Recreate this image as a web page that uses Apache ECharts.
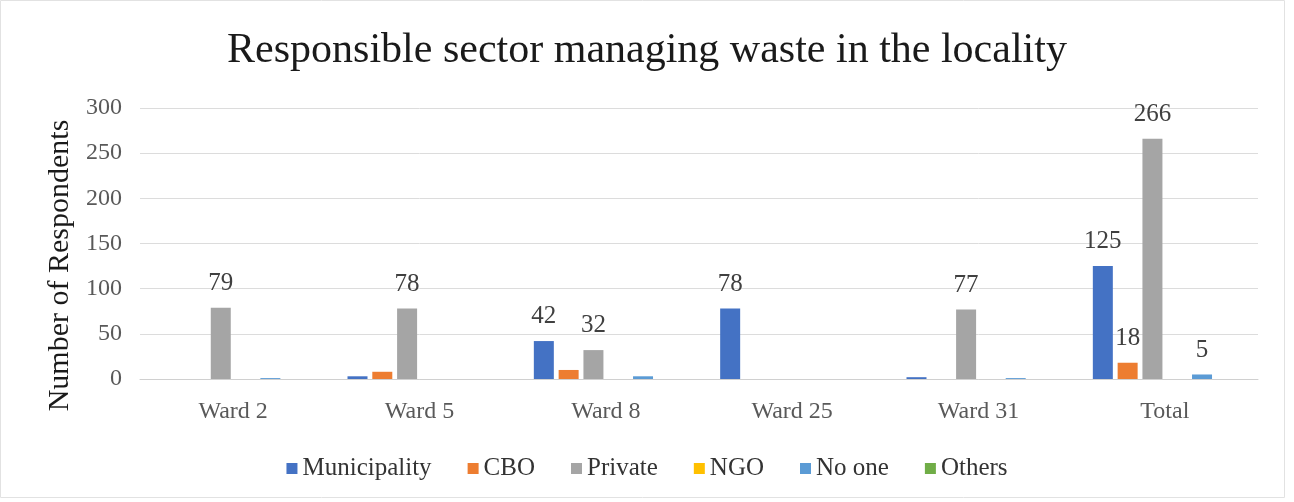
<!DOCTYPE html>
<html>
<head>
<meta charset="utf-8">
<script src="https://cdn.jsdelivr.net/npm/echarts@6/dist/echarts.min.js"></script>
<style>
  html, body { margin: 0; padding: 0; background: #fff; }
  #chart { width: 1294px; height: 502px; }
</style>
</head>
<body>
<div id="chart"></div>
<script>
// Respondents by ward and by sector responsible for waste management
const categories = ['Ward 2', 'Ward 5', 'Ward 8', 'Ward 25', 'Ward 31', 'Total'];
const seriesNames = ['Municipality', 'CBO', 'Private', 'NGO', 'No one', 'Others'];
const municipality = [0, 3, 42, 78, 2, 125];
const cbo = [0, 8, 10, 0, 0, 18];
const privateSector = [79, 78, 32, 0, 77, 266];
const ngo = [0, 0, 0, 0, 0, 0];
const noOne = [1, 0, 3, 0, 1, 5];
const others = [0, 0, 0, 0, 0, 0];
// Values printed above their bars
const labelled = {
  'Municipality': [false, false, true, true, false, true],
  'CBO': [false, false, false, false, false, true],
  'Private': [true, true, true, false, true, true],
  'NGO': [false, false, false, false, false, false],
  'No one': [false, false, false, false, false, true],
  'Others': [false, false, false, false, false, false]
};
const yTicks = { min: 0, max: 300, interval: 50 };

const colors = ['#4472C4', '#ED7D31', '#A5A5A5', '#FFC000', '#5B9BD5', '#70AD47'];
const values = [municipality, cbo, privateSector, ngo, noOne, others];
const serif = '"Liberation Serif", "DejaVu Serif", serif';

const chart = echarts.init(document.getElementById('chart'), null, { renderer: 'canvas' });

const series = seriesNames.map((name, i) => ({
  name,
  type: 'bar',
  barWidth: 20,
  barGap: '24%',
  itemStyle: { color: colors[i] },
  data: values[i].map((v, j) => ({
    value: v,
    label: {
      show: labelled[name][j],
      position: 'top',
      distance: 12,
      fontFamily: serif,
      fontSize: 25,
      color: '#404040'
    }
  }))
}));

chart.setOption({
  animation: false,
  backgroundColor: '#ffffff',
  title: {
    text: 'Responsible sector managing waste in the locality',
    left: 'center',
    top: 25,
    textStyle: { fontFamily: serif, fontSize: 42, fontWeight: 'normal', color: '#1a1a1a' }
  },
  grid: { left: 140, right: 36, top: 108, bottom: 123, containLabel: false },
  legend: {
    data: seriesNames,
    bottom: 16,
    left: 'center',
    itemWidth: 11,
    itemHeight: 11,
    itemGap: 36,
    icon: 'rect',
    textStyle: { fontFamily: serif, fontSize: 25, color: '#333' }
  },
  xAxis: {
    type: 'category',
    data: categories,
    axisLine: { lineStyle: { color: '#d0d0d0', width: 1 } },
    axisTick: { show: false },
    axisLabel: { fontFamily: serif, fontSize: 24, color: '#595959', margin: 21 }
  },
  yAxis: {
    type: 'value',
    min: yTicks.min,
    max: yTicks.max,
    interval: yTicks.interval,
    name: 'Number of Respondents',
    nameLocation: 'middle',
    nameGap: 64,
    nameTextStyle: { fontFamily: serif, fontSize: 30, color: '#1a1a1a', padding: [0, 44, 0, 0] },
    axisLine: { show: false },
    axisTick: { show: false },
    axisLabel: { fontFamily: serif, fontSize: 24, color: '#595959', margin: 18 },
    splitLine: { lineStyle: { color: '#dcdcdc', width: 1 } }
  },
  graphic: [{
    type: 'rect',
    shape: { x: 0.5, y: 0.5, width: 1284, height: 497 },
    style: { fill: 'none', stroke: '#e2e2e2', lineWidth: 1 },
    silent: true,
    z: -1
  }],
  series
});
</script>
</body>
</html>
